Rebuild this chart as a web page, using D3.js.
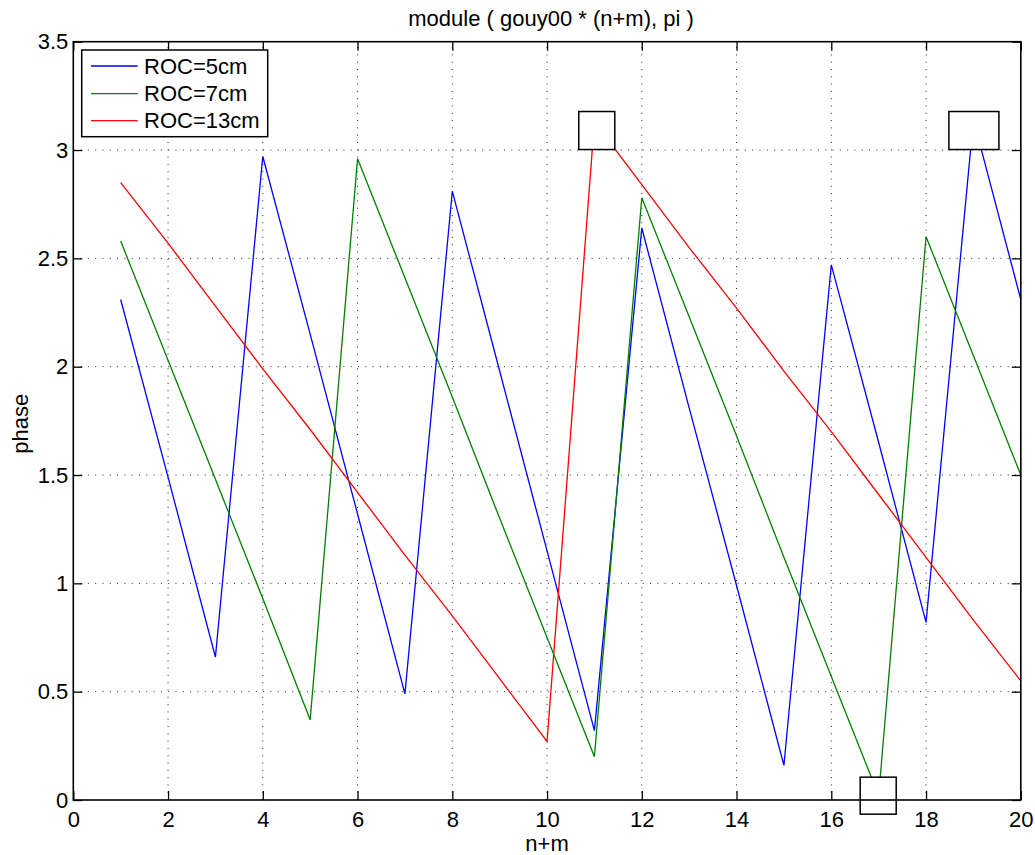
<!DOCTYPE html>
<html>
<head>
<meta charset="utf-8">
<script src="https://cdn.jsdelivr.net/npm/d3@7"></script>
<style>
  html, body { margin: 0; padding: 0; background: #fff; }
  svg { display: block; font-family: "Liberation Sans", Arial, Helvetica, sans-serif; }
</style>
</head>
<body>
<svg id="chart" width="1035" height="855"></svg>
<script>
// ---- data ----
const nm = [1,2,3,4,5,6,7,8,9,10,11,12,13,14,15,16,17,18,19,20];
const roc5  = [2.31,1.49,0.66,2.97,2.15,1.32,0.49,2.81,1.98,1.15,0.32,2.64,1.81,0.99,0.16,2.47,1.65,0.82,3.14,2.31];
const roc7  = [2.58,2.03,1.48,0.93,0.37,2.96,2.41,1.86,1.30,0.75,0.20,2.78,2.23,1.68,1.12,0.57,0.02,2.60,2.05,1.50];
const roc13 = [2.85,2.57,2.28,1.99,1.71,1.42,1.13,0.85,0.56,0.27,3.13,2.84,2.55,2.27,1.98,1.70,1.41,1.12,0.83,0.55];
const seriesNames = ["ROC=5cm","ROC=7cm","ROC=13cm"];
const seriesColors = ["#0000ff","#008000","#ff0000"];
const xTicks = [0,2,4,6,8,10,12,14,16,18,20];
const yTicks = [0,0.5,1,1.5,2,2.5,3,3.5];
const yTickLabels = ["0","0.5","1","1.5","2","2.5","3","3.5"];
// empty annotation boxes (centre in data units)
const boxX = [11.05, 19.01, 16.99];
const boxY = [3.09, 3.09, 0.02];
const titleText = "module ( gouy00 * (n+m), pi )";
const xLabel = "n+m";
const yLabel = "phase";

// ---- layout ----
const L = 73.3, R = 1020.8, T = 41.7, B = 800;
const FS = 22;
const svg = d3.select("#chart");
const x = d3.scaleLinear().domain([0,20]).range([L,R]);
const y = d3.scaleLinear().domain([0,3.5]).range([B,T]);

// grid
const grid = svg.append("g").attr("stroke","#222").attr("stroke-width",1).attr("stroke-dasharray","1,6.3");
xTicks.filter(t => t>0 && t<20).forEach(t => {
  grid.append("line").attr("x1",x(t)).attr("x2",x(t)).attr("y1",B).attr("y2",T);
});
yTicks.filter(t => t>0 && t<3.5).forEach(t => {
  grid.append("line").attr("x1",L).attr("x2",R).attr("y1",y(t)).attr("y2",y(t));
});

// series
const allSeries = [roc5, roc7, roc13];
const line = d3.line().x(d => x(d[0])).y(d => y(d[1]));
allSeries.forEach((vals,i) => {
  svg.append("path")
    .datum(nm.map((n,j) => [n, vals[j]]))
    .attr("d", line)
    .attr("fill","none")
    .attr("stroke", seriesColors[i])
    .attr("stroke-width",1.3);
});

// annotation boxes
const boxW = [36, 50, 36], boxH = [38, 38, 37];
boxX.forEach((bx,i) => {
  svg.append("rect")
    .attr("x", x(bx) - boxW[i]/2).attr("y", y(boxY[i]) - boxH[i]/2)
    .attr("width", boxW[i]).attr("height", boxH[i])
    .attr("fill","#fff").attr("stroke","#000").attr("stroke-width",1.5);
});

// axes
function styleAxis(g, showLabels){
  g.select(".domain").remove();
  g.selectAll(".tick line").attr("stroke","#000").attr("stroke-width",1.3);
  g.selectAll(".tick text").attr("fill","#000").style("font-size", FS+"px");
  if(!showLabels) g.selectAll(".tick text").remove();
}
const xAxisB = d3.axisBottom(x).tickValues(xTicks).tickFormat(d3.format("d")).tickSize(-9).tickPadding(11.5);
const xAxisT = d3.axisTop(x).tickValues(xTicks).tickSize(-9);
const yAxisL = d3.axisLeft(y).tickValues(yTicks).tickFormat((d,i) => yTickLabels[i]).tickSize(-9).tickPadding(5);
const yAxisR = d3.axisRight(y).tickValues(yTicks).tickSize(-9);
svg.append("g").attr("transform",`translate(0,${B})`).call(xAxisB).call(g => styleAxis(g,true)).attr("font-family",null);
svg.append("g").attr("transform",`translate(0,${T})`).call(xAxisT).call(g => styleAxis(g,false));
svg.append("g").attr("transform",`translate(${L},0)`).call(yAxisL).call(g => styleAxis(g,true)).attr("font-family",null);
svg.append("g").attr("transform",`translate(${R},0)`).call(yAxisR).call(g => styleAxis(g,false));

// frame
svg.append("rect").attr("x",L).attr("y",T).attr("width",R-L).attr("height",B-T)
  .attr("fill","none").attr("stroke","#000").attr("stroke-width",1.6);

// legend
const lg = svg.append("g");
lg.append("rect").attr("x",81.7).attr("y",50).attr("width",186).attr("height",86.7)
  .attr("fill","#fff").attr("stroke","#000").attr("stroke-width",1.5);
const rowY = [66, 93.7, 120.7];
seriesNames.forEach((nme,i) => {
  lg.append("line").attr("x1",91).attr("x2",137.7).attr("y1",rowY[i]).attr("y2",rowY[i])
    .attr("stroke",seriesColors[i]).attr("stroke-width",1.3);
  lg.append("text").attr("x",144).attr("y",rowY[i]).attr("dy","0.35em")
    .style("font-size",FS+"px").text(nme);
});

// title and labels
svg.append("text").attr("x",551).attr("y",26).attr("text-anchor","middle")
  .style("font-size",FS+"px").text(titleText);
svg.append("text").attr("x",(L+R)/2).attr("y",851).attr("text-anchor","middle")
  .style("font-size",FS+"px").text(xLabel);
svg.append("text").attr("transform",`translate(28,${(T+B)/2 + 3}) rotate(-90)`).attr("text-anchor","middle")
  .style("font-size",FS+"px").text(yLabel);
</script>
</body>
</html>
